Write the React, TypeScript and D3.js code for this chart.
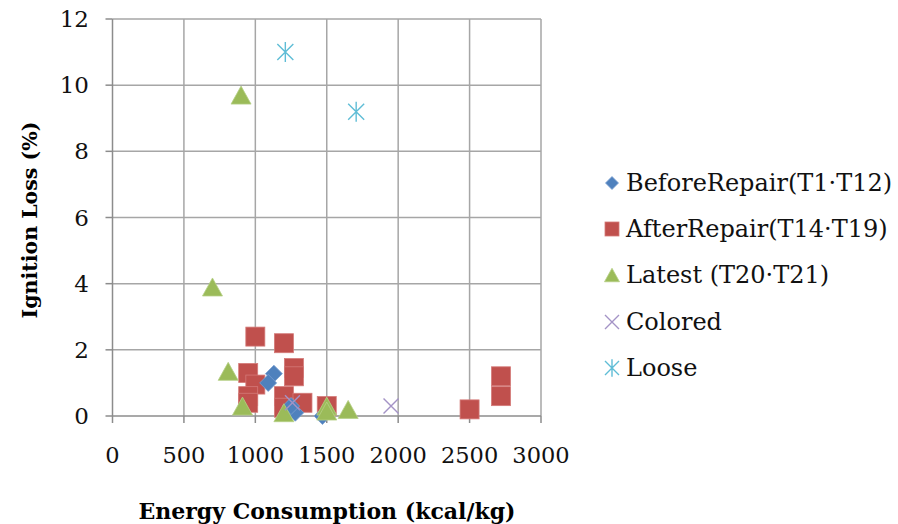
import React from 'react';
import * as d3 from 'd3';

// energy consumption (kcal/kg) vs ignition loss (%)
const beforeX = [1130, 1090, 1280, 1250, 1470];
const beforeY = [1.28, 1.0, 0.1, 0.3, 0.0];

const afterX = [1000, 1200, 950, 1000, 950, 950, 1270, 1270, 1200, 1330, 1500, 1200, 2500, 2720, 2720];
const afterY = [2.4, 2.2, 1.3, 0.95, 0.6, 0.4, 1.45, 1.2, 0.6, 0.4, 0.3, 0.25, 0.2, 1.2, 0.6];

const latestX = [900, 700, 810, 910, 1200, 1500, 1500, 1650];
const latestY = [9.7, 3.9, 1.35, 0.3, 0.1, 0.3, 0.15, 0.2];

const coloredX = [1260, 1950];
const coloredY = [0.4, 0.3];

const looseX = [1210, 1706];
const looseY = [11.0, 9.2];

const xTicks = [0, 500, 1000, 1500, 2000, 2500, 3000];
const yTicks = [0, 2, 4, 6, 8, 10, 12];

const legendLabels = ['BeforeRepair(T1·T12)', 'AfterRepair(T14·T19)', 'Latest (T20·T21)', 'Colored', 'Loose'];

const BLUE = '#4F81BD';
const RED = '#C0504D';
const GREEN = '#9BBB59';
const PURPLE = '#A493C6';
const CYAN = '#5FBDD6';

const serif = '"DejaVu Serif", "Liberation Serif", serif';

const Marker = ({ kind, cx, cy, s }: { kind: number; cx: number; cy: number; s: number }) => {
  const h = s / 2;
  if (kind === 0) {
    return (
      <path
        d={`M${cx},${cy - h}L${cx + h},${cy}L${cx},${cy + h}L${cx - h},${cy}Z`}
        fill={BLUE}
        stroke="#7aa0d0"
        strokeWidth={0.8}
      />
    );
  }
  if (kind === 1) {
    return <rect x={cx - h} y={cy - h} width={s} height={s} fill={RED} stroke="#d47a78" strokeWidth={0.8} />;
  }
  if (kind === 2) {
    const th = s * 0.9;
    return (
      <path
        d={`M${cx},${cy - th / 2}L${cx + h},${cy + th / 2}L${cx - h},${cy + th / 2}Z`}
        fill={GREEN}
        stroke="#b5cf85"
        strokeWidth={0.8}
      />
    );
  }
  if (kind === 3) {
    return (
      <path
        d={`M${cx - h},${cy - h}L${cx + h},${cy + h}M${cx - h},${cy + h}L${cx + h},${cy - h}`}
        stroke={PURPLE}
        strokeWidth={1.4}
        fill="none"
      />
    );
  }
  return (
    <path
      d={`M${cx - h},${cy - h}L${cx + h},${cy + h}M${cx - h},${cy + h}L${cx + h},${cy - h}M${cx},${cy - h * 1.25}L${cx},${cy + h * 1.25}`}
      stroke={CYAN}
      strokeWidth={1.4}
      fill="none"
    />
  );
};

const App = () => {
  const x = d3.scaleLinear().domain([0, 3000]).range([112.5, 541]);
  const y = d3.scaleLinear().domain([0, 12]).range([416, 19]);

  const series = [
    { kind: 0, xs: beforeX, ys: beforeY, size: 17 },
    { kind: 1, xs: afterX, ys: afterY, size: 19 },
    { kind: 2, xs: latestX, ys: latestY, size: 20 },
    { kind: 3, xs: coloredX, ys: coloredY, size: 15 },
    { kind: 4, xs: looseX, ys: looseY, size: 16 },
  ];
  // draw order: red under, blue, green, purple, cyan
  const order = [1, 0, 2, 3, 4];

  const legendY = [183, 229, 275, 322, 368];
  const legendSize = [13, 14, 15, 14, 14];

  return (
    <svg width={898} height={524} style={{ position: 'absolute', left: 0, top: 0, background: '#fff' }}>
      {/* grid */}
      {yTicks.filter((t) => t > 0).map((t) => (
        <line key={'gy' + t} x1={x(0)} x2={x(3000)} y1={y(t)} y2={y(t)} stroke="#a6a6a6" strokeWidth={1.5} />
      ))}
      {xTicks.filter((t) => t > 0).map((t) => (
        <line key={'gx' + t} x1={x(t)} x2={x(t)} y1={y(12)} y2={y(0)} stroke="#a6a6a6" strokeWidth={1.5} />
      ))}
      {/* axes */}
      <line x1={x(0)} x2={x(0)} y1={y(12)} y2={y(0)} stroke="#8c8c8c" strokeWidth={1.5} />
      <line x1={x(0)} x2={x(3000)} y1={y(0)} y2={y(0)} stroke="#8c8c8c" strokeWidth={1.5} />
      {yTicks.map((t) => (
        <line key={'ty' + t} x1={x(0) - 7} x2={x(0)} y1={y(t)} y2={y(t)} stroke="#8c8c8c" strokeWidth={1.5} />
      ))}
      {xTicks.map((t) => (
        <line key={'tx' + t} x1={x(t)} x2={x(t)} y1={y(0)} y2={y(0) + 7} stroke="#8c8c8c" strokeWidth={1.5} />
      ))}
      {yTicks.map((t) => (
        <text key={'ly' + t} x={89} y={y(t) + 8} textAnchor="end" fontFamily={serif} fontSize={23} fill="#111">
          {t}
        </text>
      ))}
      {xTicks.map((t) => (
        <text key={'lx' + t} x={x(t)} y={463} textAnchor="middle" fontFamily={serif} fontSize={22.5} fill="#111">
          {t}
        </text>
      ))}
      {/* axis titles */}
      <text x={327} y={519} textAnchor="middle" fontFamily={serif} fontWeight="bold" fontSize={22} fill="#000">
        Energy Consumption (kcal/kg)
      </text>
      <text
        transform={`translate(37,220) rotate(-90)`}
        textAnchor="middle"
        fontFamily={serif}
        fontWeight="bold"
        fontSize={20.5}
        fill="#000"
      >
        Ignition Loss (%)
      </text>
      {/* points */}
      {order.map((si) => {
        const s = series[si];
        return (
          <g key={'s' + si}>
            {s.xs.map((v, i) => (
              <Marker key={i} kind={s.kind} cx={x(v)} cy={y(s.ys[i])} s={s.size} />
            ))}
          </g>
        );
      })}
      {/* legend */}
      {legendLabels.map((lab, i) => (
        <g key={'lg' + i}>
          <Marker kind={i} cx={612} cy={legendY[i]} s={legendSize[i]} />
          <text x={626} y={legendY[i] + 8} fontFamily={serif} fontSize={24} fill="#111">
            {lab}
          </text>
        </g>
      ))}
    </svg>
  );
};

export default App;
